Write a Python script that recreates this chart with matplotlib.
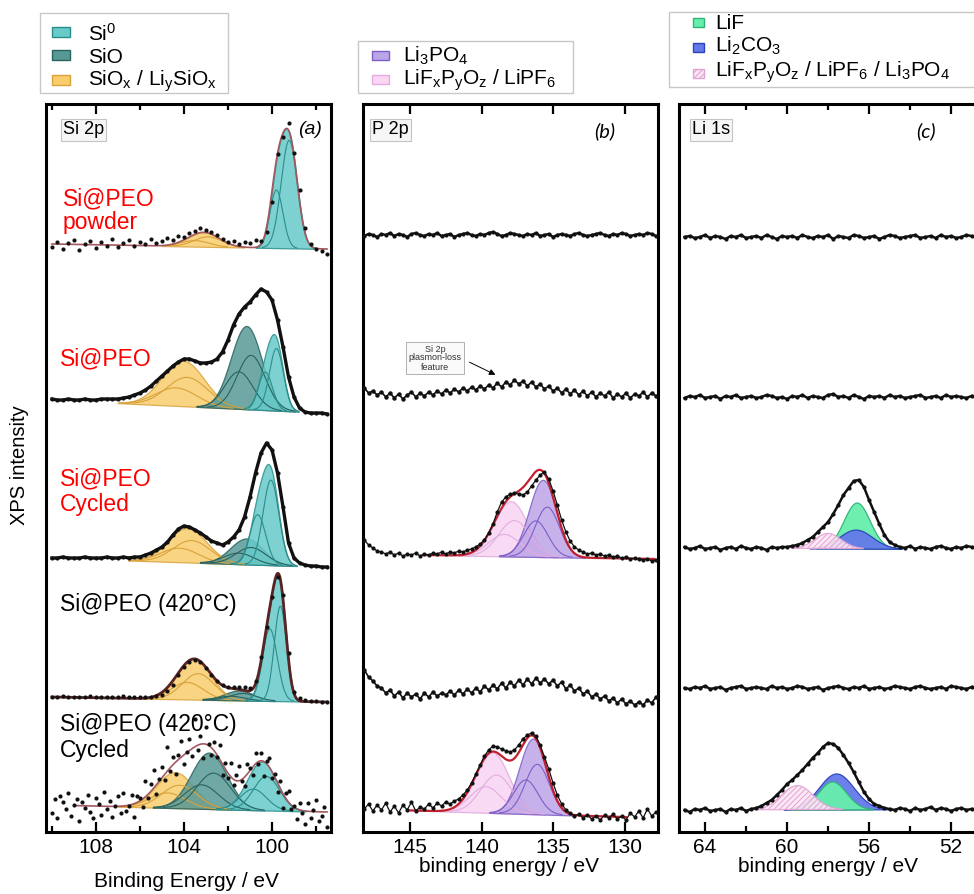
import numpy as np
import matplotlib
matplotlib.use("Agg")
import matplotlib.pyplot as plt
from matplotlib.patches import Rectangle

plt.rcParams['font.family'] = ['Liberation Sans', 'DejaVu Sans']
plt.rcParams['mathtext.default'] = 'regular'
plt.rcParams['hatch.linewidth'] = 0.8

W, H = 974, 894

# ---------------- energy axes (instrument steps) ----------------
E_SI = np.arange(110.0, 97.49, -0.25)        # 51 points
E_SI_DENSE = np.arange(110.0, 97.49, -0.125) # 101 points
E_P = np.arange(148.2, 127.79, -0.3)         # 69 points
E_LI = np.arange(65.0, 50.99, -0.25)         # 57 points

# ---------------- Si 2p data (relative intensity) ----------------
A1_Y = [-3, 2, -5, 1, 4, -6, 0, 3, -4, 2, -2, 5, -3, 1, 4, -2, 2, 0, 5, 1, 3, 6, 4, 8, 7,
        11, 13, 16, 14, 12, 9, 5, 2, 3, 0, 2, 1, 4, 3, 12, 42, 90, 107, 121, 91, 54, 16, 0, -5, -7, -10]
A2_Y = [1, 0, 0, 1, 0, 0, 1, 0, 0, 1, 1, 1, 1, 2, 3, 5, 7, 10, 14, 19, 24, 29, 34, 38, 41, 41,
        39, 37, 37, 38, 41, 48, 60, 75, 86, 93, 98, 105, 111, 108, 100, 80, 53, 23, 3, -8, -12, -13, -13, -13, -14]
A3_Y = [0, 0, 1, 0, 0, 0, 1, 0, 0, 0, 1, 0, 0, 1, 0, 1, 1, 3, 5, 8, 11, 16, 23, 29, 32, 31,
        28, 25, 21, 17, 15, 13, 16, 21, 28, 41, 61, 85, 105, 115, 108, 85, 51, 15, 0, -5, -7, -8, -8, -9, -9]
A4_Y = [0, 0, 1, 0, 0, 0, 0, 1, 0, 0, 0, 0, 0, 1, 0, 0, 0, 0, 0, 1, 2, 6, 12, 22, 30, 35, 37, 35,
        29, 22, 16, 12, 10, 10, 10, 10, 9, 16, 40, 70, 100, 120, 102, 44, 5, -1, -3, -4, -4, -5, -5]
A5_Y = [-8, 6, -13, 9, 3, -4, 12, -11, 0, 6, -16, 3, -3, 10, -7, -13, 7, 1, -10, 13,
        -4, 4, -12, -1, 9, -8, 12, -6, -1, 10, -12, 9, 7, -2, 24, 7, 21, 35, 11, 26,
        38, 25, 58, 34, 48, 31, 50, 64, 41, 53, 66, 49, 86, 55, 69, 47, 78, 61, 50, 63,
        48, 60, 30, 42, 27, 42, 20, 30, 39, 24, 19, 41, 37, 30, 52, 41, 52, 29, 44, 47,
        27, 31, 13, 24, -3, 12, 14, -4, -1, -14, 2, -8, -19, 2, -13, -5, 5, -16, -11, -2, -22]

# fit components: (centre eV, height, FWHM eV)
A1_SIOX = [(102.9, 10, 1.5), (103.5, 6, 1.5)]
A1_SIO = []
A1_SI0 = [(99.22, 108, 0.86), (99.8, 58, 0.7)]
A2_SIOX = [(103.85, 29, 2.2), (104.35, 18, 2.2)]
A2_SIO = [(100.95, 54, 1.5), (101.5, 37, 1.5)]
A2_SI0 = [(99.8, 62, 0.75), (100.3, 38, 0.75)]
A3_SIOX = [(103.65, 22, 2.0), (104.2, 14, 2.0)]
A3_SIO = [(100.95, 17, 1.6), (101.5, 11, 1.6)]
A3_SI0 = [(100.05, 85, 0.85), (100.65, 50, 0.85)]
A4_SIOX = [(103.35, 26, 1.7), (103.85, 17, 1.7)]
A4_SIO = [(101.3, 7, 1.4), (101.85, 4, 1.4)]
A4_SI0 = [(99.62, 95, 0.65), (100.1, 72, 0.8)]
A5_SIOX = [(104.2, 23, 1.9), (104.75, 15, 1.9)]
A5_SIO = [(102.65, 36, 1.8), (103.2, 24, 1.8)]
A5_SI0 = [(100.25, 34, 1.4), (100.85, 21, 1.4)]
A_BG = [(0, -5), (0, -13), (0, -9), (0, -5), (0, -7)]
A_OFFSETS = [588, 432, 274, 135, 27]

# ---------------- P 2p data ----------------
B1_Y = [-1, 1, 0, -2, 1, 0, 2, -1, 1, 0, -2, 1, 2, 0, -1, 1, 0, 2, -1, 0, 1, -2, 0, 1, 2, 0, -1,
        1, 0, 2, 3, 1, -1, 0, 2, 1, 0, -1, 1, 0, 2, -1, 0, 1, -2, 0, 1, 0, -1, 1, 2, 0, -1, 0,
        1, 2, 0, -1, 1, 0, 2, 1, -1, 0, 1, 0, 2, 1, -1]
B2_Y = [2, -3, -1, -5, -2, -7, -3, -8, -4, -9, -5, -2, -7, -3, -6, -2, -5, -1, -4, 0, -3, 1, -2,
        2, -1, 3, 0, 4, 1, 5, 2, 7, 3, 8, 5, 10, 6, 9, 4, 8, 3, 6, 1, 4, -1, 2, -3, 1, -4, 0,
        -5, -1, -6, -2, -7, -3, -6, -2, -8, -4, -7, -3, -8, -4, -6, -2, -7, -3, -6]
B3_Y = [14, 9, 6, 3, 2, 0, 2, -1, 1, -2, 0, -1, 1, -2, 0, -1, 1, 0, 2, 0, 2, 1, 3, 2, 4, 5, 7,
        10, 14, 21, 30, 42, 52, 57, 60, 61, 60, 59, 62, 68, 74, 79, 82, 75, 63, 49, 34, 22, 13,
        7, 4, 2, 0, 1, -1, 0, -2, -1, -3, -2, -4, -3, -5, -4, -5, -6, -5, -7, -6]
B4_Y = [25, 18, 14, 9, 7, 2, 5, -1, 3, -3, 2, -2, 1, -4, 2, -2, 3, -1, 2, 0, 4, 0, 5, 1, 6, 2,
        7, 3, 9, 5, 10, 6, 12, 7, 13, 9, 15, 10, 16, 11, 17, 12, 16, 11, 15, 9, 13, 6, 10, 4,
        7, 1, 4, -2, 1, -4, -1, -6, -3, -8, -4, -9, -6, -10, -7, -10, -5, -8, -2]
B5_Y = [-2, 3, -4, 2, -3, 4, -5, 1, -6, 2, -3, 5, -4, 0, -2, 3, -1, 4, 1, 5, 3, 6, 8, 12, 17,
        24, 33, 42, 51, 57, 61, 60, 58, 56, 55, 57, 62, 68, 72, 74, 71, 62, 50, 38, 24, 12, 3,
        -3, -6, -9, -7, -11, -8, -12, -9, -13, -8, -11, -7, -12, -9, -13, -6, -10, -4, -11, -2, -9, -5]
B3_MIX = [(137.7, 36, 2.6), (138.4, 22, 2.6)]
B3_LI3PO4 = [(135.4, 50, 2.0), (136.2, 36, 2.0)]
B5_MIX = [(138.95, 38, 2.6), (139.7, 26, 2.6)]
B5_LI3PO4 = [(136.1, 50, 2.0), (136.9, 34, 2.0)]
B_BG = [(0, -5), (-2, -11)]
B_OFFSETS = [597, 442, 278, 137, 25]

# ---------------- Li 1s data ----------------
C1_Y = [0, 1, -1, 0, 2, -1, 1, 0, -2, 1, 0, 2, -1, 0, 1, -1, 2, 0, -2, 1, 0, 1, -1, 2, 0, -1, 1,
        0, 2, -2, 1, 0, -1, 2, 1, -1, 0, 1, -2, 0, 2, 1, -1, 0, 1, 2, -1, 0, 1, -1, 2, 0, 1, -1, 0, 2, 1]
C2_Y = [-1, 1, 0, 2, -1, 0, 1, -2, 1, 0, 2, -1, 0, 1, -1, 0, 2, 1, -1, 0, -2, 1, 0, 2, -1, 1, 0,
        -1, 2, 3, 0, 1, -1, 2, 0, -2, 1, 0, 1, -1, 2, 0, 1, -1, 0, 1, 2, -1, 0, 1, -1, 2, 0, 1, 0, -1, 1]
C3_Y = [1, -1, 0, 2, -1, 0, 1, -2, 0, 1, -1, 2, 0, -1, 1, 0, -2, 1, 0, 1, 1, 2, 3, 5, 8, 11, 16,
        21, 26, 34, 43, 53, 60, 67, 68, 61, 48, 36, 24, 13, 6, 3, 1, 0, 2, -1, 1, 0, -1, 1, 2, 0, -1, 1, 0, 2, 1]
C4_Y = [0, -1, 1, 0, 2, -1, 0, 1, -2, 0, 1, 2, -1, 0, 1, 0, -1, 2, 0, 1, -1, 0, 2, 1, -1, 0, 1,
        -2, 0, 1, 2, 0, -1, 1, 0, 2, -1, 0, 1, -1, 0, 2, 1, 0, -1, 1, 2, 0, -1, 0, 1, -1, 2, 1, 0, -1, 1]
C5_Y = [0, -2, 1, 0, 2, -1, 0, 1, -2, 1, 0, 2, -1, 1, 2, 4, 7, 10, 15, 20, 26, 30, 35, 40, 46, 52,
        57, 63, 67, 66, 62, 55, 47, 38, 28, 18, 11, 6, 4, 2, 1, 0, 2, 1, -1, 2, 0, 1, 3, 0, 2, 1, -1, 1, 2, 0, 1]
C3_LIF = [(56.6, 46, 1.5)]
C3_LI2CO3 = [(56.65, 19, 1.9)]
C3_MIX = [(58.0, 15, 1.5)]
C5_LIF = [(57.8, 28, 1.6)]
C5_LI2CO3 = [(57.6, 36, 2.0)]
C5_MIX = [(59.5, 24, 1.8)]
C_BG = [(0, -1), (0, 1)]
C_OFFSETS = [595, 435, 284, 144, 22]

# ---------------- styles ----------------
COL = {
    'si0': ('#66cbc9', '#2a8d8b'),
    'sio': ('#579995', '#2a625f'),
    'siox': ('#f9cd6c', '#d9a23c'),
    'li3po4': ('#bca4e8', '#7d5fc6'),
    'mix': ('#f9d6f3', '#e2ade0'),
    'lif': ('#66efac', '#2fb377'),
    'li2co3': ('#6479ea', '#2b44b8'),
    'mixh': ('#fce7f6', '#e3a3d2'),
}
DOT = '#111111'


def gauss(x, c, h, w):
    return h * np.exp(-4.0 * np.log(2.0) * ((x - c) / w) ** 2)


def draw_spectrum(ax, x, y_rel, offset, bg=None, species=(), env=None,
                  env_color='#9b4f57', env_lw=1.3, ms=2.6, connect=0.0):
    x = np.asarray(x, float)
    y = offset + np.asarray(y_rel, float)
    if bg is not None:
        x0, x1 = x[0], x[-1]
        xf = np.linspace(x0, x1, 900)
        bgl = offset + bg[0] + (bg[1] - bg[0]) * (x0 - xf) / (x0 - x1)
        total = np.zeros_like(xf)
        for comps, key, hatch, alpha, lines in species:
            if not comps:
                continue
            face, edge = COL[key]
            parts = [gauss(xf, *c) for c in comps]
            s = np.sum(parts, axis=0)
            total += s
            m = s > 0.4
            ax.fill_between(xf, bgl, bgl + s, where=m, facecolor=face, edgecolor=edge,
                            lw=0.9, alpha=alpha, hatch=hatch, interpolate=True, zorder=2)
            if lines and len(parts) > 1:
                for p in parts:
                    ax.plot(xf, np.where(p > 0.4, bgl + p, np.nan), color=edge, lw=0.8, zorder=2.5)
        if env is not None:
            me = (xf <= env[0]) & (xf >= env[1])
            ax.plot(xf[me], (bgl + total)[me], color=env_color, lw=env_lw, zorder=3)
    if connect:
        ax.plot(x, y, color=DOT, lw=connect, zorder=3.5)
    ax.plot(x, y, 'o', ms=ms, color=DOT, mec='none', zorder=4)


fig = plt.figure(figsize=(W / 100, H / 100), dpi=100)
fig.patch.set_facecolor('white')

TOP, BOT = 104, 832


def make_axes(x0, x1):
    return fig.add_axes([x0 / W, (H - BOT) / H, (x1 - x0) / W, (BOT - TOP) / H])


ax_a = make_axes(46, 331)
ax_b = make_axes(363, 658)
ax_c = make_axes(679, 990)

for ax in (ax_a, ax_b, ax_c):
    ax.set_ylim(0, BOT - TOP)
    for sp in ax.spines.values():
        sp.set_linewidth(2.2)
    ax.tick_params(axis='x', which='both', direction='in', top=True, width=1.6,
                   labelsize=15, pad=4)
    ax.tick_params(axis='x', which='major', length=7)
    ax.tick_params(axis='x', which='minor', length=4.5)
    ax.tick_params(axis='y', left=False, labelleft=False)

ax_a.set_xlim(110.27, 97.32)
ax_a.set_xticks([108, 104, 100])
ax_a.set_xticks([110, 106, 102, 98], minor=True)
ax_b.set_xlim(148.29, 127.66)
ax_b.set_xticks([145, 140, 135, 130])
ax_c.set_xlim(65.27, 50.1)
ax_c.set_xticks([64, 60, 56, 52])
ax_c.set_xticks([62, 58, 54], minor=True)

# ---- panel (a) ----
a_sets = [
    (E_SI, A1_Y, A1_SIOX, A1_SIO, A1_SI0, (110.0, 97.5), 0.0),
    (E_SI, A2_Y, A2_SIOX, A2_SIO, A2_SI0, None, 2.4),
    (E_SI, A3_Y, A3_SIOX, A3_SIO, A3_SI0, None, 2.4),
    (E_SI, A4_Y, A4_SIOX, A4_SIO, A4_SI0, (110.0, 97.5), 0.0),
    (E_SI_DENSE, A5_Y, A5_SIOX, A5_SIO, A5_SI0, (109.0, 97.5), 0.0),
]
for i, (xg, yv, siox, sio, si0, env, conn) in enumerate(a_sets):
    env_col = '#5a2424' if i == 3 else '#a4585f'
    env_lw = 2.0 if i == 3 else 1.2
    draw_spectrum(ax_a, xg, yv, A_OFFSETS[i], bg=A_BG[i],
                  species=[(siox, 'siox', None, 0.85, True),
                           (sio, 'sio', None, 0.85, True),
                           (si0, 'si0', None, 0.85, True)],
                  env=env, env_color=env_col, env_lw=env_lw, ms=3.0, connect=conn)

# ---- panel (b) ----
draw_spectrum(ax_b, E_P, B1_Y, B_OFFSETS[0], ms=3.0, connect=1.8)
draw_spectrum(ax_b, E_P, B2_Y, B_OFFSETS[1], ms=3.2, connect=1.2)
draw_spectrum(ax_b, E_P, B3_Y, B_OFFSETS[2], bg=B_BG[0],
              species=[(B3_MIX, 'mix', None, 0.9, True), (B3_LI3PO4, 'li3po4', None, 0.85, True)],
              env=(144.1, 127.9), env_color='#c2202e', env_lw=1.6, ms=3.0, connect=0.9)
draw_spectrum(ax_b, E_P, B4_Y, B_OFFSETS[3], ms=3.2, connect=1.2)
draw_spectrum(ax_b, E_P, B5_Y, B_OFFSETS[4], bg=B_BG[1],
              species=[(B5_MIX, 'mix', None, 0.9, True), (B5_LI3PO4, 'li3po4', None, 0.85, True)],
              env=(145.0, 129.9), env_color='#c2202e', env_lw=1.6, ms=3.0, connect=0.9)

# ---- panel (c) ----
draw_spectrum(ax_c, E_LI, C1_Y, C_OFFSETS[0], ms=3.0, connect=1.8)
draw_spectrum(ax_c, E_LI, C2_Y, C_OFFSETS[1], ms=3.0, connect=1.8)
draw_spectrum(ax_c, E_LI, C3_Y, C_OFFSETS[2], bg=C_BG[0],
              species=[(C3_LIF, 'lif', None, 0.95, False),
                       (C3_LI2CO3, 'li2co3', None, 0.95, False),
                       (C3_MIX, 'mixh', '//////', 0.9, False)],
              ms=3.0, connect=1.8)
draw_spectrum(ax_c, E_LI, C4_Y, C_OFFSETS[3], ms=3.0, connect=1.8)
draw_spectrum(ax_c, E_LI, C5_Y, C_OFFSETS[4], bg=C_BG[1],
              species=[(C5_LI2CO3, 'li2co3', None, 0.95, False),
                       (C5_LIF, 'lif', None, 0.95, False),
                       (C5_MIX, 'mixh', '//////', 0.9, False)],
              ms=3.0, connect=1.8)

# ---------------- overlay (pixel coordinates) ----------------
ov = fig.add_axes([0, 0, 1, 1], zorder=10)
ov.set_xlim(0, W)
ov.set_ylim(H, 0)
ov.axis('off')
ov.patch.set_alpha(0)

LEG_FS = 15


def legend_box(box, items, sw_x, sw_w, sw_h, text_x):
    x0, y0, x1, y1 = box
    ov.add_patch(Rectangle((x0, y0), x1 - x0, y1 - y0, facecolor='white',
                           edgecolor='#c8c8c8', lw=1.0, zorder=1))
    for label, key, hatch, ybase, yc in items:
        face, edge = COL[key]
        ov.add_patch(Rectangle((sw_x, yc - sw_h / 2), sw_w, sw_h, facecolor=face,
                               edgecolor=edge, lw=1.0, hatch=hatch, zorder=2))
        ov.text(text_x, ybase, label, fontsize=LEG_FS, va='baseline', ha='left', zorder=3)


legend_box((40, 13, 228, 93),
           [(r'Si$^0$', 'si0', None, 41, 32),
            ('SiO', 'sio', None, 63, 55),
            (r'SiO$_x$ / Li$_y$SiO$_x$', 'siox', None, 86, 80)],
           52, 18, 10, 88)
legend_box((358, 41, 573, 93),
           [(r'Li$_3$PO$_4$', 'li3po4', None, 62, 55),
            (r'LiF$_x$P$_y$O$_z$ / LiPF$_6$', 'mix', None, 85, 79)],
           372, 17, 9, 403)
legend_box((669, 12, 990, 87),
           [('LiF', 'lif', None, 29, 22),
            (r'Li$_2$CO$_3$', 'li2co3', None, 52, 47),
            (r'LiF$_x$P$_y$O$_z$ / LiPF$_6$ / Li$_3$PO$_4$', 'mixh', '//////', 77, 73)],
           693, 11, 9, 715)

# panel titles
box_kw = dict(boxstyle='square,pad=0.12', fc='#f6f6f6', ec='#c4c4c4', lw=0.8)
ov.text(63, 130, 'Si 2p', fontsize=13, va='center', ha='left', bbox=box_kw)
ov.text(372, 130, 'P 2p', fontsize=13, va='center', ha='left', bbox=box_kw)
ov.text(692, 130, 'Li 1s', fontsize=13, va='center', ha='left', bbox=box_kw)
ov.text(298, 129, '(a)', fontsize=14, style='italic', va='center', ha='left')
ov.text(594, 131, '(b)', fontsize=14.5, style='italic', va='center', ha='left',
        family=['Lato', 'DejaVu Sans'])
ov.text(916, 131, '(c)', fontsize=14.5, style='italic', va='center', ha='left',
        family=['Lato', 'DejaVu Sans'])

# sample labels
S_FS = 16.5
ov.text(63, 205, 'Si@PEO', color='#ff0000', fontsize=S_FS, va='baseline')
ov.text(63, 229, 'powder', color='#ff0000', fontsize=S_FS, va='baseline')
ov.text(60, 365, 'Si@PEO', color='#ff0000', fontsize=S_FS, va='baseline')
ov.text(60, 485, 'Si@PEO', color='#ff0000', fontsize=S_FS, va='baseline')
ov.text(60, 511, 'Cycled', color='#ff0000', fontsize=S_FS, va='baseline')
ov.text(60, 611, 'Si@PEO (420°C)', color='black', fontsize=S_FS, va='baseline')
ov.text(60, 731, 'Si@PEO (420°C)', color='black', fontsize=S_FS, va='baseline')
ov.text(60, 757, 'Cycled', color='black', fontsize=S_FS, va='baseline')

# plasmon-loss annotation
ov.text(435, 358, 'Si 2p\nplasmon-loss\nfeature', fontsize=6.5, ha='center', va='center',
        linespacing=1.0, color='#333333',
        bbox=dict(boxstyle='square,pad=0.25', fc='#fafafa', ec='#b0b0b0', lw=0.7))
ov.annotate('', xy=(498, 376), xytext=(467, 361),
            arrowprops=dict(arrowstyle='-|>', color='black', lw=0.7, mutation_scale=9))

# axis labels
ov.text(20, 465, 'XPS intensity', fontsize=14.5, rotation=90, ha='center', va='center')
ov.text(186, 887, 'Binding Energy / eV', fontsize=15, ha='center', va='baseline')
ov.text(509, 872, 'binding energy / eV', fontsize=15, ha='center', va='baseline')
ov.text(828, 872, 'binding energy / eV', fontsize=15, ha='center', va='baseline')

fig.savefig('out.png', dpi=100, facecolor='white')
